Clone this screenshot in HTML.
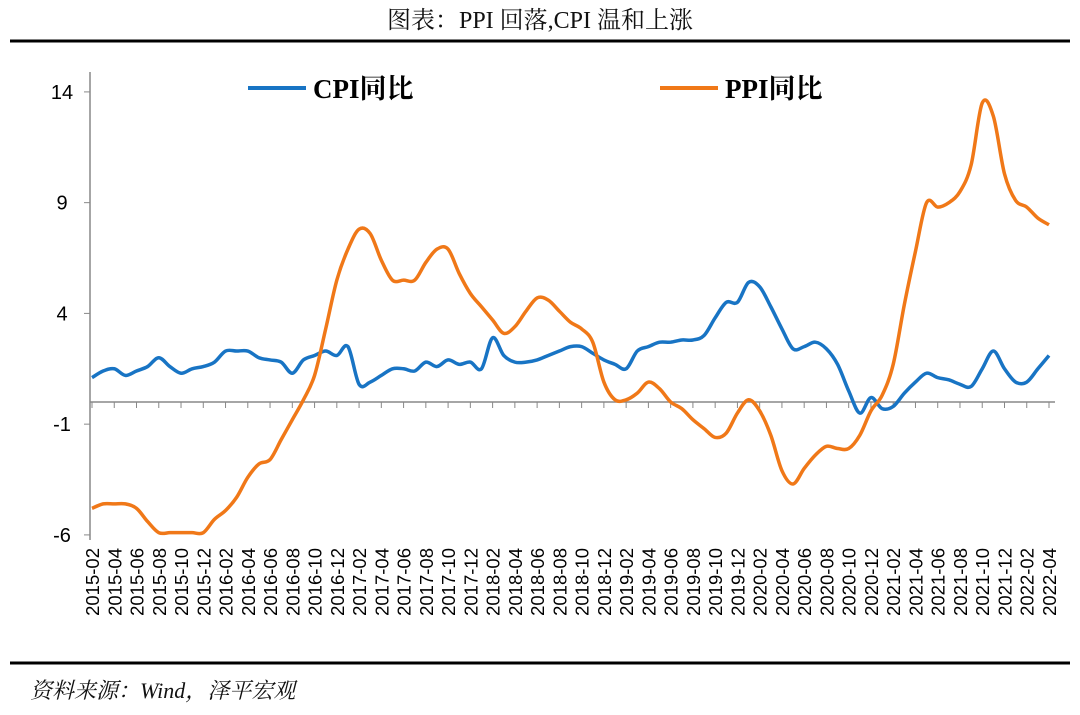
<!DOCTYPE html>
<html><head><meta charset="utf-8"><style>
body{margin:0;background:#fff;}
.serif{font-family:"Liberation Serif","Noto Serif CJK SC",serif;}
.sans{font-family:"Liberation Sans","Noto Sans CJK SC",sans-serif;}
</style></head><body>
<svg width="1080" height="710" viewBox="0 0 1080 710" xmlns="http://www.w3.org/2000/svg">
<text class="serif" x="540" y="28" text-anchor="middle" font-size="24" fill="#111">图表：PPI 回落,CPI 温和上涨</text>
<line x1="10" y1="41" x2="1070" y2="41" stroke="#000" stroke-width="3"/>
<line x1="10" y1="663" x2="1070" y2="663" stroke="#000" stroke-width="3"/>
<text class="serif" x="30" y="698" font-size="22" font-style="italic" fill="#111">资料来源：Wind，泽平宏观</text>
<g id="axes"></g>
<g id="series"></g>
<g>
<line x1="248" y1="88" x2="306" y2="88" stroke="#1874C4" stroke-width="4"/>
<text class="serif" x="313" y="98" font-size="27" font-weight="bold">CPI同比</text>
<line x1="660" y1="88" x2="718" y2="88" stroke="#F07818" stroke-width="4"/>
<text class="serif" x="725" y="98" font-size="27" font-weight="bold">PPI同比</text>
</g>
</svg>
<script>
const cpi=[1.1,1.4,1.5,1.2,1.4,1.6,2.0,1.6,1.3,1.5,1.6,
1.8,2.3,2.3,2.3,2.0,1.9,1.8,1.3,1.9,2.1,2.3,2.1,
2.5,0.8,0.9,1.2,1.5,1.5,1.4,1.8,1.6,1.9,1.7,1.8,
1.5,2.9,2.1,1.8,1.8,1.9,2.1,2.3,2.5,2.5,2.2,1.9,
1.7,1.5,2.3,2.5,2.7,2.7,2.8,2.8,3.0,3.8,4.5,4.5,
5.4,5.2,4.3,3.3,2.4,2.5,2.7,2.4,1.7,0.5,-0.5,0.2,
-0.3,-0.2,0.4,0.9,1.3,1.1,1.0,0.8,0.7,1.5,2.3,1.5,
0.9,0.9,1.5,2.1];
const ppi=[-4.8,-4.6,-4.6,-4.6,-4.8,-5.4,-5.9,-5.9,-5.9,-5.9,-5.9,
-5.3,-4.9,-4.3,-3.4,-2.8,-2.6,-1.7,-0.8,0.1,1.2,3.3,5.5,
6.9,7.8,7.6,6.4,5.5,5.5,5.5,6.3,6.9,6.9,5.8,4.9,
4.3,3.7,3.1,3.4,4.1,4.7,4.6,4.1,3.6,3.3,2.7,0.9,
0.1,0.1,0.4,0.9,0.6,0.0,-0.3,-0.8,-1.2,-1.6,-1.4,-0.5,
0.1,-0.4,-1.5,-3.1,-3.7,-3.0,-2.4,-2.0,-2.1,-2.1,-1.5,-0.4,
0.3,1.7,4.4,6.8,9.0,8.8,9.0,9.5,10.7,13.5,12.9,10.3,
9.1,8.8,8.3,8.0];
const yTicks=[-6,-1,4,9,14];
const startYear=2015,startMonth=2;
const NS="http://www.w3.org/2000/svg";
const X=i=>92+i*(1049-92)/(cpi.length-1);
const Y=v=>402-v*22.15;
function mk(tag,attrs,parent){const e=document.createElementNS(NS,tag);for(const k in attrs)e.setAttribute(k,attrs[k]);parent.appendChild(e);return e;}
const ax=document.getElementById('axes');
let yl=mk('line',{x1:90,y1:72,x2:90,y2:540,stroke:'#888','stroke-width':1.5},ax);


yTicks.forEach(t=>{
 const tl=mk('line',{x1:84,y1:Y(t),x2:90,y2:Y(t),stroke:'#888'},ax);
 
 
 const tx=mk('text',{class:'sans',x:62,y:Y(t)+7,'text-anchor':'middle','font-size':20},ax);
 tx.textContent=t;
 
 
});
let xl=mk('line',{x1:90,y1:402,x2:1055,y2:402,stroke:'#888','stroke-width':1.5},ax);


for(let i=0;i<cpi.length;i+=2){
 const m0=startMonth-1+i,yr=startYear+Math.floor(m0/12),mo=m0%12+1;
 const lab=yr+'-'+String(mo).padStart(2,'0');
 const tk=mk('line',{x1:X(i),y1:402,x2:X(i),y2:408,stroke:'#888'},ax);
 
 
 const tx=mk('text',{class:'sans','text-anchor':'end','font-size':18.5,transform:`translate(${X(i)+7},548) rotate(-90)`},ax);
 tx.textContent=lab;
 
 
}
function smooth(arr){
 const p=arr.map((v,i)=>[X(i),Y(v)]);
 let d=`M${p[0][0]},${p[0][1]}`;
 for(let i=0;i<p.length-1;i++){
  const p0=p[Math.max(0,i-1)],p1=p[i],p2=p[i+1],p3=p[Math.min(p.length-1,i+2)];
  const c1=[p1[0]+(p2[0]-p0[0])/6,p1[1]+(p2[1]-p0[1])/6];
  const c2=[p2[0]-(p3[0]-p1[0])/6,p2[1]-(p3[1]-p1[1])/6];
  d+=` C${c1[0]},${c1[1]} ${c2[0]},${c2[1]} ${p2[0]},${p2[1]}`;
 }
 return d;
}
const sg=document.getElementById('series');
const l1=mk('path',{d:smooth(cpi),fill:'none',stroke:'#1874C4','stroke-width':3.5},sg);


const l2=mk('path',{d:smooth(ppi),fill:'none',stroke:'#F07818','stroke-width':3.5},sg);


</script>
</body></html>
